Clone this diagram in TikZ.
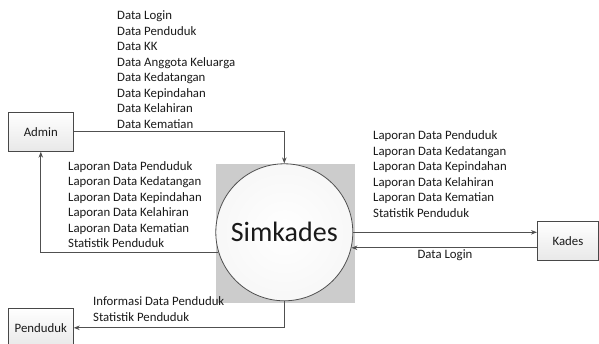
\documentclass[tikz,border=0pt]{standalone}
\usepackage{fontspec}
\setmainfont{Carlito}
\usetikzlibrary{arrows.meta}
\definecolor{linec}{HTML}{505050}
\definecolor{txtc}{HTML}{1A1A1A}
\tikzset{
  every node/.style={text=txtc, font=\fontsize{12.8}{15.5}\selectfont},
  entity/.style={draw=linec!90!black, line width=0.8pt, top color=white, bottom color=gray!18,
    minimum height=39pt, inner sep=0pt},
  proc/.style={circle, draw=linec, line width=0.8pt, inner color=white, outer color=gray!6,
    minimum size=137pt, inner sep=0pt, font=\fontsize{28}{32}\selectfont},
  flow/.style={draw=linec, line width=0.8pt, -{Stealth[length=6pt,width=4.5pt]}},
  lbl/.style={align=left, inner sep=0pt, anchor=north west},
}
\begin{document}
\begin{tikzpicture}[x=1pt,y=-1pt]
\clip (0,0) rectangle (599,344);
\fill[white] (0,0) rectangle (599,344);
\fill[gray!40] (215.7,164) rectangle (355,303.3);
\node[proc] (sim) at (284.3,232.3) {Simkades};
\node[entity, minimum width=65pt] (admin) at (40.8,131.8) {Admin};
\node[entity, minimum width=61pt] (kades) at (567.9,241.2) {Kades};
\node[entity, minimum width=65pt] (pend) at (40.8,327.8) {Penduduk};

\draw[flow] (admin.east) -| (sim.north);
\draw[flow] (sim.197) -| (admin.south);
\draw[flow] (sim.south) |- (pend.east);
\draw[flow] (sim.east) -- (sim.east -| kades.west);
\draw[flow] (sim.-13.5 -| kades.west) -- (sim.-13.5);

\node[lbl] (ta) at (117,10.5) {Data Login\\Data Penduduk\\Data KK\\Data Anggota Keluarga\\Data Kedatangan\\Data Kepindahan\\Data Kelahiran\\Data Kematian};
\node[lbl] (tb) at (68,161) {Laporan Data Penduduk\\Laporan Data Kedatangan\\Laporan Data Kepindahan\\Laporan Data Kelahiran\\Laporan Data Kematian\\Statistik Penduduk};
\node[lbl] (tc) at (373,130.5) {Laporan Data Penduduk\\Laporan Data Kedatangan\\Laporan Data Kepindahan\\Laporan Data Kelahiran\\Laporan Data Kematian\\Statistik Penduduk};
\node[lbl] (td) at (93,296.5) {Informasi Data Penduduk\\Statistik Penduduk};
\node[inner sep=0pt] (te) at (445,255) {Data Login};
\end{tikzpicture}
\end{document}
